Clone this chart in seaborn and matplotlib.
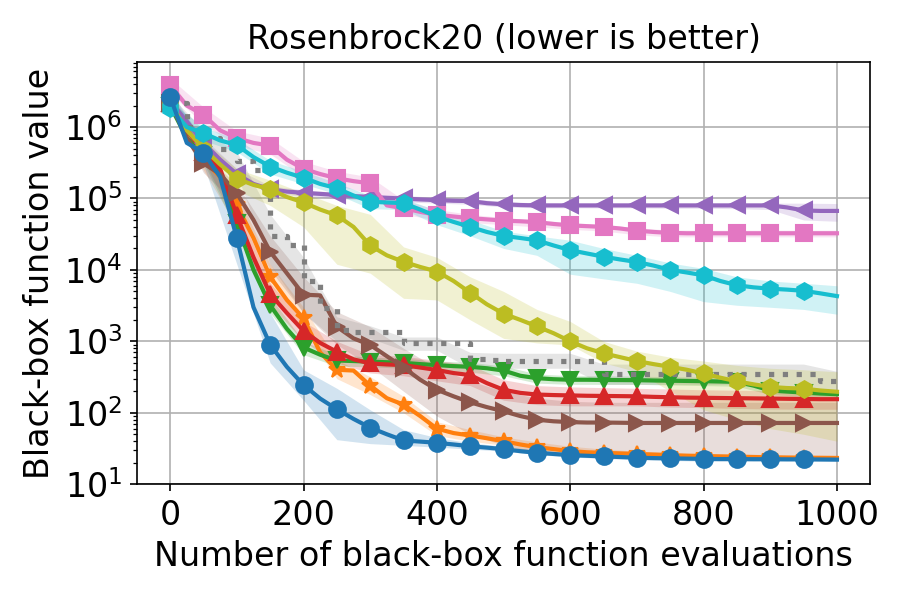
import matplotlib
matplotlib.use("Agg")
import matplotlib.pyplot as plt
import seaborn as sns

plt.rcParams["font.family"] = ["DejaVu Sans"]
plt.rcParams["font.size"] = 16

# evaluation grid (means) and coarser grid for the shaded bands
evals = list(range(0, 1001, 25))
band_evals = list(range(0, 1001, 50))

# mean best-so-far value per method
blue_mean = [2.66e6, 6.0e5, 4.4e5, 2.0e5, 2.8e4, 3.0e3, 900, 440, 245, 158, 112, 82, 62, 50, 41,
             39.5, 38, 36, 34, 32.5, 31, 29, 27.5, 26.5, 25.5, 25, 24.5, 24, 23.5, 23.2, 23,
             22.8, 22.6, 22.5, 22.5, 22.4, 22.4, 22.3, 22.3, 22.2, 22.1]
orange_mean = [2.3e6, 7e5, 3.5e5, 2.0e5, 8e4, 2.8e4, 8e3, 3.8e3, 2.1e3, 700, 400, 390, 240, 160, 130,
               90, 60, 52, 48, 44, 40, 36, 33, 31, 29, 28, 27.5, 27, 26.5, 26, 25.5,
               25, 24.8, 24.5, 24.3, 24, 23.8, 23.6, 23.5, 23.4, 23.3]
green_mean = [2.0e6, 7e5, 4.0e5, 2.2e5, 4.5e4, 1.0e4, 3.2e3, 1.5e3, 820, 650, 540, 530, 520, 510, 500,
              480, 465, 450, 440, 420, 390, 330, 305, 295, 290, 290, 288, 287, 286, 283, 281,
              279, 277, 274, 270, 240, 205, 198, 192, 186, 182]
red_mean = [2.2e6, 9e5, 4.5e5, 2.6e5, 5.8e4, 1.5e4, 4.6e3, 2.5e3, 1.4e3, 950, 715, 560, 490, 475, 465,
            430, 397, 360, 337, 260, 210, 190, 180, 177, 175, 173, 172, 171, 170, 167, 165,
            163, 162, 161, 160, 159, 158, 157, 156, 155, 155]
purple_mean = [2.3e6, 1.2e6, 6e5, 3.5e5, 2.2e5, 1.6e5, 1.35e5, 1.25e5, 1.2e5, 1.16e5, 1.12e5, 1.08e5,
               1.05e5, 1.02e5, 1.0e5, 9.7e4, 9.5e4, 9.3e4, 9.2e4, 8.6e4, 8.3e4, 8.1e4, 8.0e4, 8.0e4,
               8.0e4, 8.0e4, 8.0e4, 8.0e4, 8.0e4, 8.0e4, 8.0e4, 8.0e4, 8.0e4, 8.0e4, 8.0e4, 8.0e4,
               8.0e4, 7.5e4, 6.8e4, 6.7e4, 6.7e4]
brown_mean = [2.2e6, 7e5, 3.1e5, 2.2e5, 1.18e5, 5e4, 1.8e4, 9e3, 4.5e3, 4.4e3, 1.6e3, 1.1e3, 890, 620,
              430, 290, 210, 170, 140, 120, 105, 90, 80, 76, 74, 73, 73, 72.5, 72, 72, 72,
              72, 72, 72, 72, 72, 72, 72, 72, 72, 72]
pink_mean = [3.85e6, 2.0e6, 1.48e6, 9e5, 7.0e5, 6e5, 5.5e5, 3.5e5, 2.6e5, 2.2e5, 1.92e5, 1.75e5,
             1.63e5, 8e4, 7.3e4, 6.5e4, 5.9e4, 5.6e4, 5.3e4, 5.1e4, 4.9e4, 4.8e4, 4.66e4, 4.4e4,
             4.2e4, 4.1e4, 4.0e4, 3.8e4, 3.55e4, 3.4e4, 3.3e4, 3.26e4, 3.26e4, 3.26e4, 3.26e4,
             3.26e4, 3.26e4, 3.26e4, 3.26e4, 3.26e4, 3.26e4]
gray_mean = [2.2e6, 1.0e6, 7e5, 5e5, 3.4e5, 2.5e5, 3e4, 2.2e4, 7e3, 2.9e3, 1.45e3, 1.36e3, 1.36e3,
             1.36e3, 940, 940, 940, 940, 560, 540, 530, 530, 530, 530, 530, 530, 350, 350, 350,
             350, 350, 350, 350, 350, 350, 350, 350, 350, 350, 280, 278]
olive_mean = [2.2e6, 9e5, 5e5, 3e5, 1.9e5, 1.55e5, 1.35e5, 1.05e5, 8.8e4, 7e4, 5.8e4, 4e4, 2.2e4,
              1.6e4, 1.3e4, 1.1e4, 9.5e3, 7e3, 4.8e3, 3.3e3, 2.44e3, 2.0e3, 1.62e3, 1.3e3, 1.0e3,
              800, 680, 600, 530, 480, 440, 400, 355, 310, 275, 250, 230, 222, 218, 205, 197]
cyan_mean = [1.85e6, 1.0e6, 8.2e5, 6.5e5, 5.6e5, 3.8e5, 2.8e5, 2.3e5, 1.95e5, 1.6e5, 1.39e5, 1.1e5,
             9.0e4, 8.8e4, 8.6e4, 7e4, 5.6e4, 4.7e4, 4.0e4, 3.4e4, 3.0e4, 2.8e4, 2.6e4, 2.2e4,
             1.89e4, 1.7e4, 1.53e4, 1.4e4, 1.29e4, 1.15e4, 1.0e4, 9.2e3, 8.4e3, 7.0e3, 6.1e3,
             5.7e3, 5.46e3, 5.3e3, 5.1e3, 4.7e3, 4.3e3]

# shaded band edges (every 50 evaluations)
blue_lo = [2.0e6, 3.0e5, 1.2e4, 500, 150, 42, 37, 35, 33, 31, 29, 26, 24, 23, 22, 21.5, 21, 21, 21, 21, 20.8]
blue_hi = [3.3e6, 6.0e5, 7e4, 2.5e3, 400, 220, 110, 58, 45, 38, 34, 30, 27.5, 26, 25, 24.5, 24, 24, 23.8, 23.6, 23.5]
orange_lo = [1.8e6, 2.5e5, 4e4, 5e3, 1.5e3, 300, 180, 100, 48, 40, 35, 27, 25, 24, 23, 22.5, 22, 22, 21.8, 21.6, 21.5]
orange_hi = [2.8e6, 4.5e5, 1.2e5, 1.2e4, 3e3, 550, 320, 170, 75, 58, 46, 39, 34, 31, 29, 28, 27, 26.5, 26, 25.5, 25.3]
green_lo = [1.7e6, 3.2e5, 3.5e4, 2.5e3, 650, 450, 440, 420, 400, 370, 330, 260, 250, 250, 250, 245, 240, 235, 180, 170, 165]
green_hi = [2.4e6, 5e5, 6e4, 4.2e3, 1.0e3, 650, 600, 580, 530, 510, 450, 350, 330, 330, 325, 320, 315, 305, 230, 215, 200]
red_lo = [1.8e6, 3.5e5, 4e4, 3.3e3, 1.0e3, 500, 360, 330, 280, 240, 150, 130, 125, 125, 125, 120, 118, 115, 113, 112, 112]
red_hi = [2.7e6, 5.8e5, 8e4, 6.5e3, 1.9e3, 1.0e3, 650, 620, 540, 470, 290, 240, 230, 225, 220, 215, 210, 207, 205, 202, 200]
purple_lo = [1.9e6, 5e5, 1.9e5, 1.2e5, 1.08e5, 1.0e5, 9.5e4, 9.0e4, 8.6e4, 8.3e4, 7.6e4, 7.4e4, 7.4e4,
             7.4e4, 7.4e4, 7.3e4, 7.3e4, 7.2e4, 7.0e4, 5.0e4, 4.8e4]
purple_hi = [2.8e6, 7e5, 2.6e5, 1.5e5, 1.32e5, 1.22e5, 1.15e5, 1.1e5, 1.04e5, 1.0e5, 9.0e4, 8.7e4, 8.6e4,
             8.6e4, 8.6e4, 8.6e4, 8.6e4, 8.6e4, 8.6e4, 8.6e4, 8.5e4]
brown_lo = [1.8e6, 2.3e5, 8e4, 1.0e4, 2.5e3, 900, 450, 200, 90, 50, 35, 28, 25, 24, 23, 22.5, 22, 22, 22, 22, 22]
brown_hi = [2.7e6, 4e5, 1.6e5, 3e4, 8e3, 2.6e3, 1.6e3, 800, 420, 280, 200, 160, 145, 140, 140, 140, 140, 140, 140, 140, 140]
pink_lo = [3.0e6, 1.1e6, 5.5e5, 4.2e5, 2.0e5, 1.5e5, 1.2e5, 6e4, 5e4, 4.6e4, 4.3e4, 4.0e4, 3.7e4, 3.5e4,
           3.1e4, 2.9e4, 2.9e4, 2.9e4, 2.9e4, 2.9e4, 2.9e4]
pink_hi = [4.8e6, 1.9e6, 8.8e5, 7.0e5, 3.3e5, 2.4e5, 2.0e5, 9.5e4, 7.0e4, 6.0e4, 5.4e4, 5.0e4, 4.6e4, 4.3e4,
           3.9e4, 3.6e4, 3.6e4, 3.6e4, 3.6e4, 3.6e4, 3.6e4]
gray_lo = [1.7e6, 5e5, 2.2e5, 1.2e4, 2.5e3, 1.0e3, 1.1e3, 750, 750, 420, 420, 420, 420, 250, 250, 250, 250,
           250, 250, 200, 190]
gray_hi = [2.8e6, 9e5, 4.5e5, 6e4, 1.5e4, 2.2e3, 1.65e3, 1.15e3, 1.15e3, 700, 680, 680, 680, 480, 480, 480,
           480, 480, 480, 480, 380]
olive_lo = [1.8e6, 3.5e5, 1.3e5, 8e4, 4e4, 1.2e4, 9e3, 4e3, 3.8e3, 2e3, 1.1e3, 950, 890, 500, 375, 200, 110,
            80, 60, 50, 40]
olive_hi = [2.7e6, 6.5e5, 2.6e5, 1.8e5, 1.2e5, 8e4, 6e4, 2.1e4, 1.5e4, 8e3, 5e3, 2.8e3, 1.9e3, 1.0e3, 730,
            600, 530, 460, 420, 400, 375]
cyan_lo = [1.5e6, 6.5e5, 4.5e5, 2.2e5, 1.6e5, 1.15e5, 7.2e4, 7.0e4, 4.3e4, 3.0e4, 2.0e4, 1.6e4, 8.7e3,
           7.5e3, 6.5e3, 5.0e3, 3.6e3, 3.2e3, 3.0e3, 2.8e3, 2.4e3]
cyan_hi = [2.3e6, 1.0e6, 6.8e5, 3.4e5, 2.4e5, 1.65e5, 1.1e5, 1.0e5, 6.8e4, 5.0e4, 3.5e4, 3.0e4, 2.6e4,
           2.0e4, 1.6e4, 1.25e4, 1.05e4, 8e3, 7e3, 6.5e3, 6.0e3]

# drawing order: the blue method ends up on top
methods = [
    ("tab:orange", "*", "-", orange_mean, orange_lo, orange_hi),
    ("tab:green", "v", "-", green_mean, green_lo, green_hi),
    ("tab:red", "^", "-", red_mean, red_lo, red_hi),
    ("tab:purple", "<", "-", purple_mean, purple_lo, purple_hi),
    ("tab:brown", ">", "-", brown_mean, brown_lo, brown_hi),
    ("tab:pink", "s", "-", pink_mean, pink_lo, pink_hi),
    ("tab:gray", "", ":", gray_mean, gray_lo, gray_hi),
    ("tab:olive", "h", "-", olive_mean, olive_lo, olive_hi),
    ("tab:cyan", "h", "-", cyan_mean, cyan_lo, cyan_hi),
    ("tab:blue", "o", "-", blue_mean, blue_lo, blue_hi),
]

fig, ax = plt.subplots(figsize=(6, 4), dpi=150)
fig.subplots_adjust(left=0.152, right=0.967, top=0.897, bottom=0.193)

for color, marker, ls, mean, lo, hi in methods:
    ax.fill_between(band_evals, lo, hi, color=color, alpha=0.2, lw=0)
    sns.lineplot(x=evals, y=mean, ax=ax, color=color, marker=marker, linestyle=ls,
                 lw=2.5 if ls == ":" else 2, markersize=8, markeredgecolor=color,
                 markeredgewidth=1, markevery=slice(0, 40, 2), errorbar=None,
                 drawstyle="steps-post" if ls == ":" else "default")

ax.set_yscale("log")
ax.set_ylim(10, 8.2e6)
ax.set_xlim(-50, 1050)
ax.grid(True, which="major", color="#b0b0b0", lw=0.8)
ax.set_axisbelow(True)
ax.tick_params(labelsize=16)
ax.set_title("Rosenbrock20 (lower is better)", fontsize=16)
ax.set_xlabel("Number of black-box function evaluations", fontsize=16)
ax.set_ylabel("Black-box function value", fontsize=16)

plt.savefig("out.png", dpi=150)
